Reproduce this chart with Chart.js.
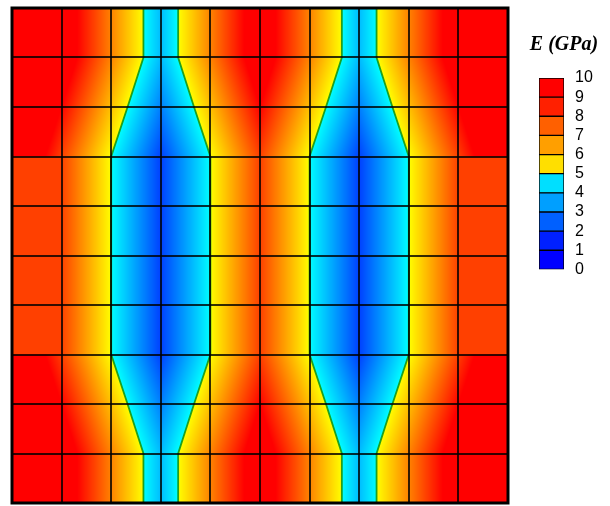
<!DOCTYPE html>
<html>
<head>
<meta charset="utf-8">
<script src="https://cdn.jsdelivr.net/npm/chart.js@4.4.0/dist/chart.umd.min.js"></script>
<style>
  body { margin: 0; background: #fff; }
  #field { position: absolute; left: 0; top: 0; }
  #bar { position: absolute; left: 518px; top: 0; }
</style>
</head>
<body>
<canvas id="field" width="520" height="506"></canvas>
<canvas id="bar" width="92" height="290"></canvas>
<script>
// Colour bar levels (GPa)
const levels = [0, 1, 2, 3, 4, 5, 6, 7, 8, 9, 10];

// Soft stripes: centre column (in cell units) and half width at every row line
const softCenters = [3, 7];
const rowLines = [0, 1, 2, 3, 4, 5, 6, 7, 8, 9, 10];
const softHalfWidth = [0.35, 0.35, 0.67, 1, 1, 1, 1, 1, 0.67, 0.35, 0.35];

// Highest modulus reached in each row of cells (stiff material)
const rowMax = [10, 10, 10, 8, 8, 8, 8, 10, 10, 10];

// Modulus at the soft/stiff interface and change of E per cell of distance
const E_interface = 5;
const E_slope = 3;

// colour map: blue -> cyan below 5, yellow -> red above 5
const colorOf = (e) => {
  if (e >= E_interface) {
    const t = Math.min(Math.max((9 - e) / 4, 0), 1);
    return [255, 255 * t, 0];
  }
  const t = Math.min(Math.max((e - 1) / 4, 0), 1);
  return [0, 255 * t, 255];
};
const css = (c) => `rgb(${Math.round(c[0])},${Math.round(c[1])},${Math.round(c[2])})`;

const halfWidthAt = (yv) => {
  const y = Math.min(Math.max(yv, 0), rowLines.length - 1);
  const j = Math.min(Math.floor(y), rowLines.length - 2);
  const f = y - j;
  return softHalfWidth[j] * (1 - f) + softHalfWidth[j + 1] * f;
};

const modulusAt = (xv, yv) => {
  const hw = halfWidthAt(yv);
  let inside = -Infinity;
  softCenters.forEach(c => { inside = Math.max(inside, hw - Math.abs(xv - c)); });
  if (inside >= 0) return E_interface - E_slope * inside;
  const row = Math.min(Math.max(Math.floor(yv), 0), rowMax.length - 1);
  return Math.min(E_interface - E_slope * inside, rowMax[row]);
};

// paints the contour field under everything else
const fieldPlugin = {
  id: 'field',
  beforeDatasetsDraw(chart) {
    const { ctx, chartArea: a, scales: { x, y } } = chart;
    const w = Math.round(a.right - a.left), h = Math.round(a.bottom - a.top);
    const off = document.createElement('canvas');
    off.width = w; off.height = h;
    const octx = off.getContext('2d');
    const img = octx.createImageData(w, h);
    const subs = [0.25, 0.75];
    for (let py = 0; py < h; py++) {
      for (let px = 0; px < w; px++) {
        let r = 0, g = 0, b = 0;
        subs.forEach(sy => subs.forEach(sx => {
          const c = colorOf(modulusAt(x.getValueForPixel(a.left + px + sx), y.getValueForPixel(a.top + py + sy)));
          r += c[0]; g += c[1]; b += c[2];
        }));
        const k = (py * w + px) * 4;
        img.data[k] = r / 4; img.data[k + 1] = g / 4; img.data[k + 2] = b / 4; img.data[k + 3] = 255;
      }
    }
    octx.putImageData(img, 0, 0);
    ctx.drawImage(off, a.left, a.top);
  },
  afterDraw(chart) {
    const { ctx, chartArea: a } = chart;
    ctx.save();
    ctx.strokeStyle = '#000';
    ctx.lineWidth = 3;
    ctx.strokeRect(a.left, a.top, a.right - a.left, a.bottom - a.top);
    ctx.restore();
  }
};

// interface lines of the soft stripes
const edgeSets = [];
softCenters.forEach(c => {
  [-1, 1].forEach(side => {
    edgeSets.push({
      data: rowLines.map((yv, j) => ({ x: c + side * softHalfWidth[j], y: yv })),
      showLine: true,
      borderColor: 'rgba(20,150,20,0.9)',
      borderWidth: 1.8,
      pointRadius: 0,
      fill: false
    });
  });
});

const gridAxis = {
  type: 'linear', min: 0, max: 10,
  ticks: { stepSize: 1, display: false },
  grid: { color: 'rgba(0,0,0,0.8)', lineWidth: 2, drawTicks: false, z: 1 },
  border: { display: false }
};

new Chart(document.getElementById('field'), {
  type: 'scatter',
  data: { datasets: edgeSets },
  options: {
    responsive: false,
    animation: false,
    layout: { padding: { left: 12, right: 12, top: 8, bottom: 3 } },
    plugins: { legend: { display: false }, tooltip: { enabled: false } },
    scales: { x: { ...gridAxis }, y: { ...gridAxis } }
  },
  plugins: [fieldPlugin]
});

// colour bar
const bands = levels.slice(0, -1).map((lo, i) => ({
  data: [levels[i + 1] - lo],
  backgroundColor: css(colorOf((lo + levels[i + 1]) / 2)),
  borderColor: '#000',
  borderWidth: 1,
  borderSkipped: false,
  barPercentage: 1,
  categoryPercentage: 1
}));

new Chart(document.getElementById('bar'), {
  type: 'bar',
  data: { labels: [''], datasets: bands },
  options: {
    responsive: false,
    animation: false,
    layout: { padding: { left: 0, right: 0, top: 26, bottom: 18 } },
    plugins: {
      legend: { display: false },
      tooltip: { enabled: false },
      title: {
        display: true,
        text: 'E (GPa)',
        color: '#000',
        font: { family: '"Liberation Serif", "Times New Roman", serif', size: 20, style: 'italic', weight: 'bold' },
        padding: { top: 7, bottom: 21 }
      }
    },
    scales: {
      x: { display: false, stacked: true },
      y: {
        stacked: true, position: 'right', min: 0, max: 10,
        ticks: { stepSize: 1, autoSkip: false, color: '#000', padding: 11, font: { family: 'Arial, "Liberation Sans", sans-serif', size: 16 } },
        grid: { display: false, drawTicks: false },
        border: { display: false },
        afterFit: (s) => { s.width = 46; }
      },
      gap: {
        position: 'left', display: true,
        ticks: { display: false },
        grid: { display: false, drawTicks: false },
        border: { display: false },
        afterFit: (s) => { s.width = 21; }
      }
    }
  }
});
</script>
</body>
</html>
